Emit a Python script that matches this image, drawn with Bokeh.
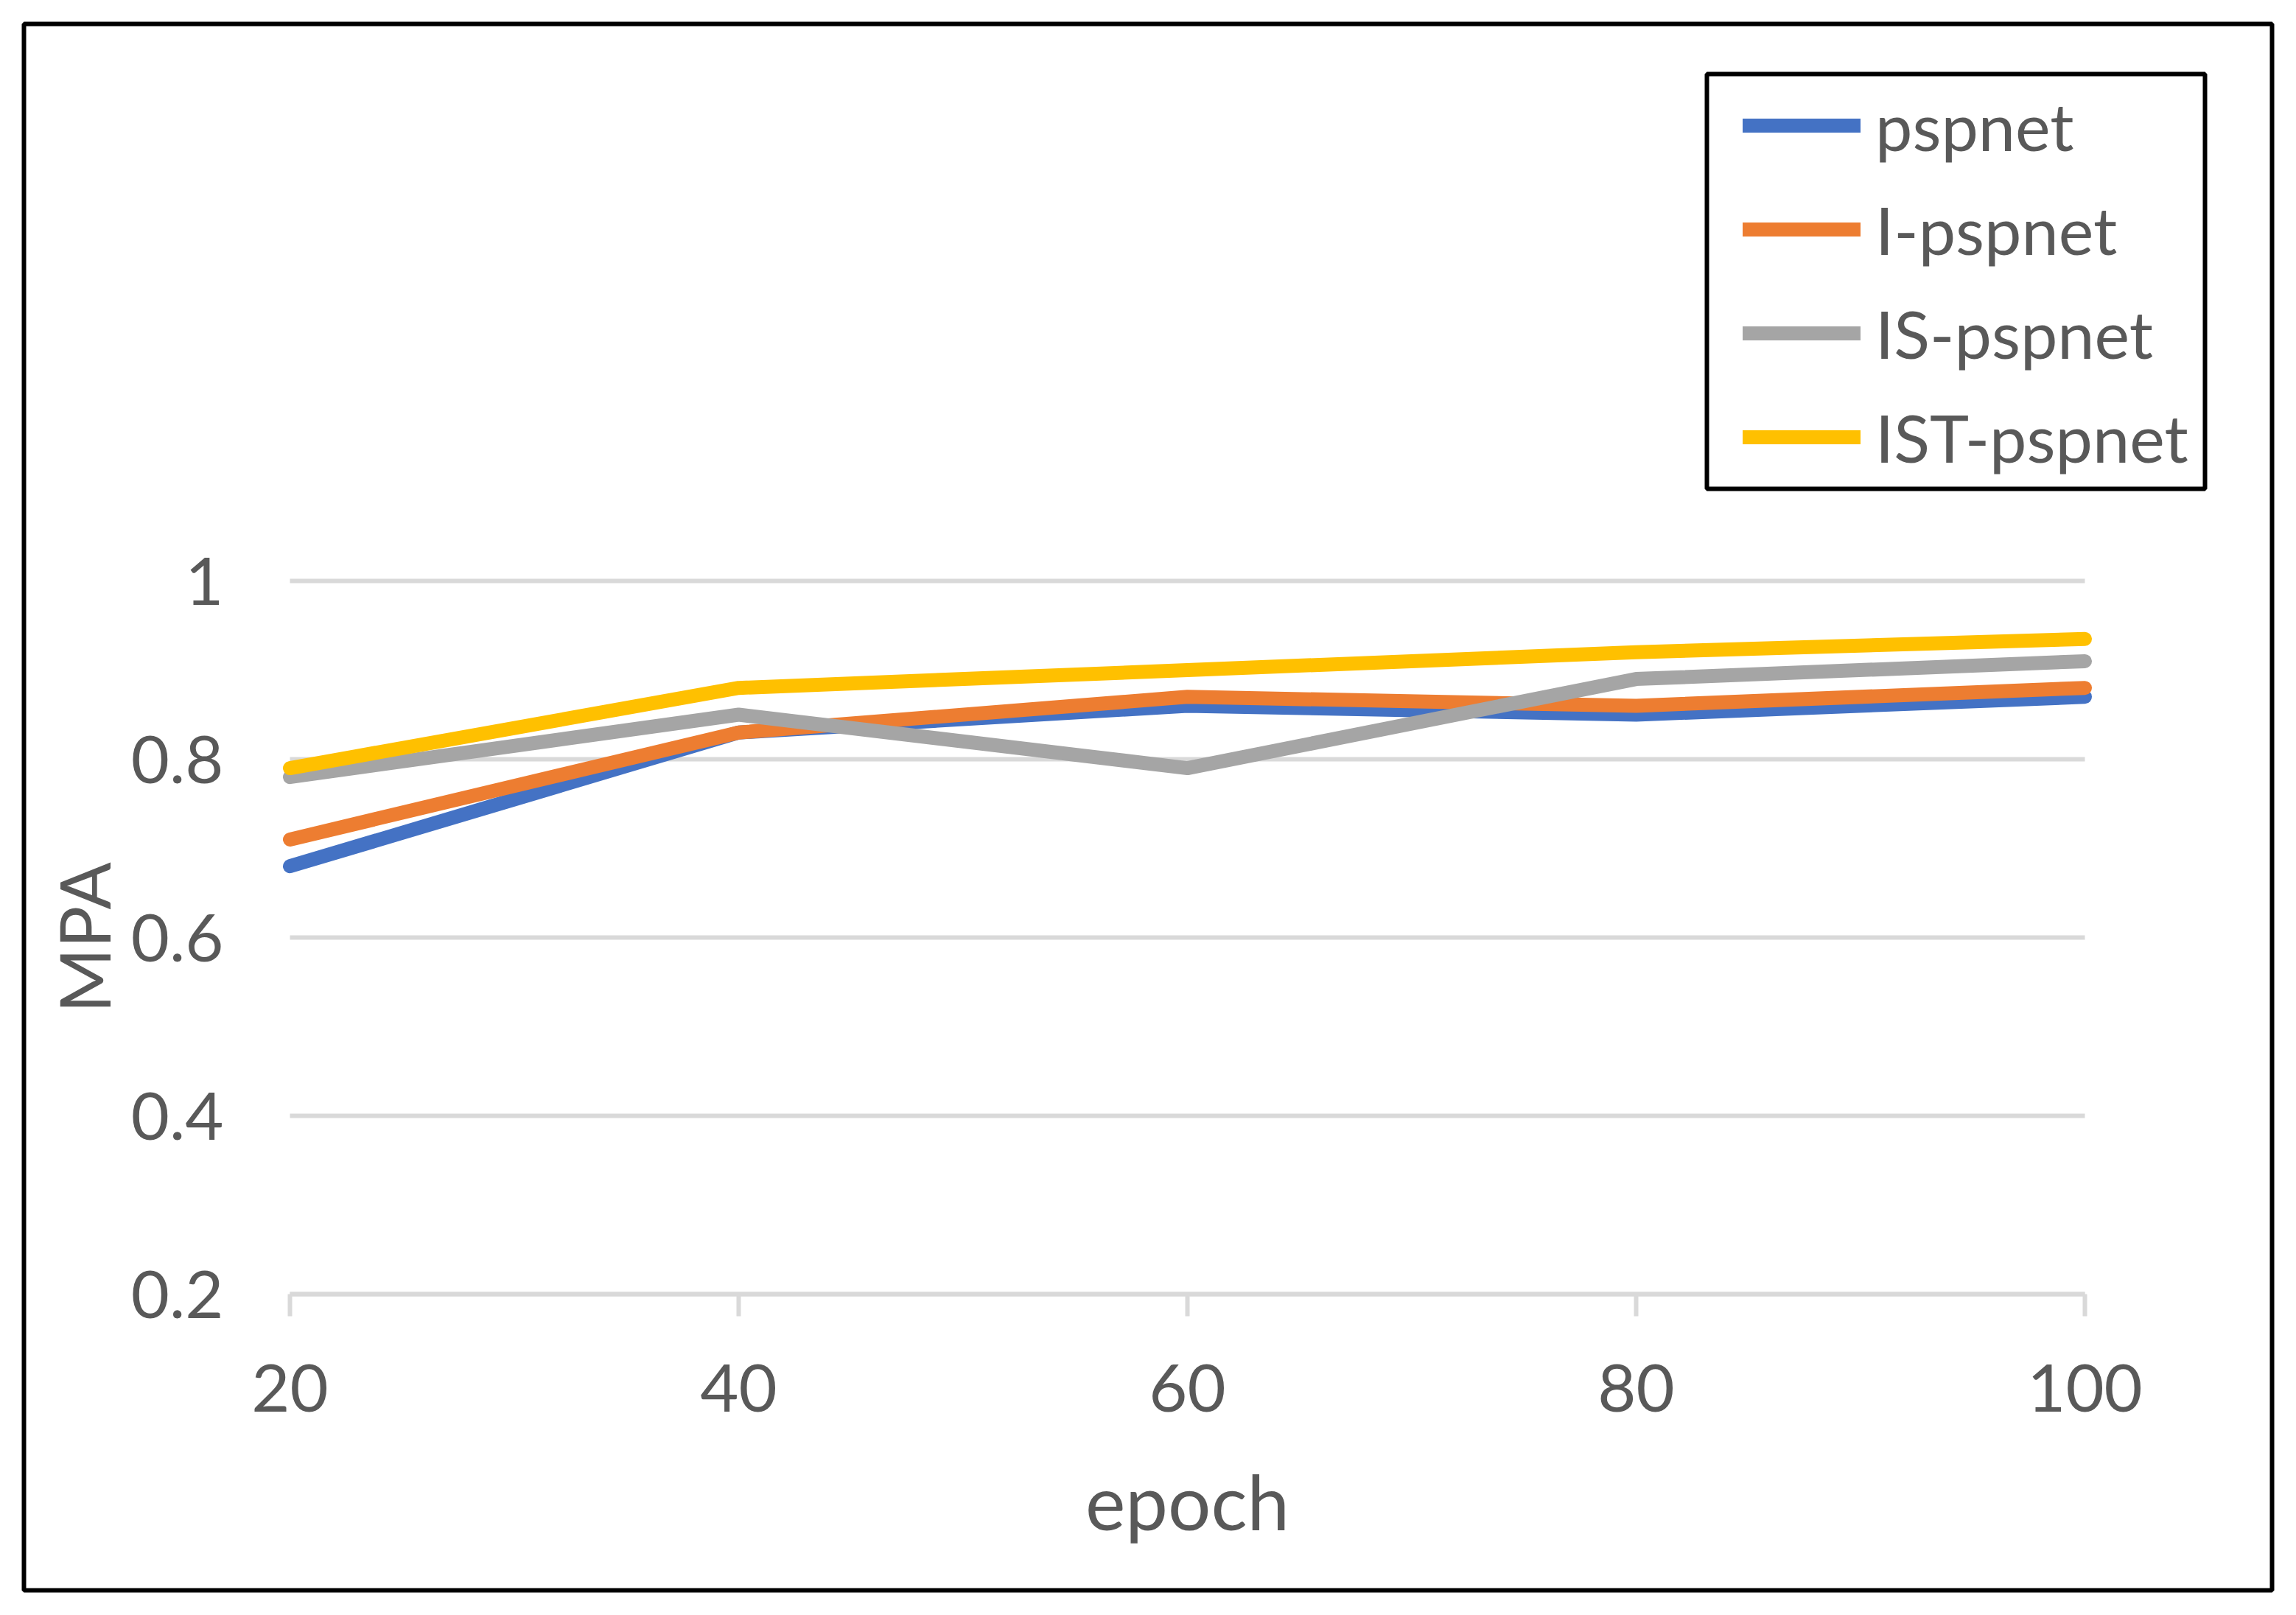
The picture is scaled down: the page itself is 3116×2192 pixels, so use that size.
from bokeh.plotting import figure
from bokeh.models import Range1d, FixedTicker, Legend, LegendItem, BoxAnnotation
from bokeh.embed import file_html
from bokeh.resources import INLINE

# ---- data ----
epochs = [20, 40, 60, 80, 100]
pspnet = [0.68, 0.83, 0.86, 0.85, 0.87]
i_pspnet = [0.71, 0.83, 0.87, 0.86, 0.88]
is_pspnet = [0.78, 0.85, 0.79, 0.89, 0.91]
ist_pspnet = [0.79, 0.88, 0.90, 0.92, 0.935]
series_names = ["pspnet", "I-pspnet", "IS-pspnet", "IST-pspnet"]
series_values = [pspnet, i_pspnet, is_pspnet, ist_pspnet]
colors = ["#4472C4", "#ED7D31", "#A5A5A5", "#FFC000"]
y_ticks = [0.2, 0.4, 0.6, 0.8, 1.0]
y_tick_labels = ["0.2", "0.4", "0.6", "0.8", "1"]

TEXT = "#595959"
GRID = "#D9D9D9"
FONT = "Lato"

# ---- layout (canvas pixels) ----
W, H = 3100, 2176
FRAME_L, FRAME_R, FRAME_T, FRAME_B = 32, 3083, 32, 2158   # the chart border
XA_PX, XB_PX = 393, 2829     # pixel of first / last epoch
YA_PX, YB_PX = 1756, 788     # pixel of lowest / highest y tick

x_a, x_b = epochs[0], epochs[-1]
y_a, y_b = y_ticks[0], y_ticks[-1]
kx = (XB_PX - XA_PX) / (x_b - x_a)
ky = (YA_PX - YB_PX) / (y_b - y_a)
x_start = x_a - (XA_PX - FRAME_L) / kx
x_end = x_b + (FRAME_R - XB_PX) / kx
y_end = y_b + (YB_PX - FRAME_T) / ky
y_start = y_a - (FRAME_B - YA_PX) / ky


def dx(px):
    return x_start + (px - FRAME_L) / kx


def dy(py):
    return y_end - (py - FRAME_T) / ky


p = figure(width=W, height=H, output_backend="svg", toolbar_location=None,
           x_range=Range1d(x_start, x_end), y_range=Range1d(y_start, y_end),
           min_border_left=FRAME_L, min_border_right=W - FRAME_R,
           min_border_top=FRAME_T, min_border_bottom=H - FRAME_B,
           x_axis_label="epoch", y_axis_label="MPA")
p.background_fill_color = "white"
p.border_fill_color = "white"
p.outline_line_color = "black"
p.outline_line_width = 6
p.outline_line_alpha = 1.0
p.xgrid.visible = False
p.ygrid.visible = False

# gridlines (only across the category span)
p.segment(x0=[x_a] * len(y_ticks), x1=[x_b] * len(y_ticks), y0=y_ticks, y1=y_ticks,
          line_color=GRID, line_width=6, level="underlay")

# x axis, placed on the 0.2 line
p.xaxis.fixed_location = y_a
p.xaxis.bounds = (x_a, x_b)
p.xaxis.ticker = FixedTicker(ticks=epochs)
p.xaxis.axis_line_color = GRID
p.xaxis.axis_line_width = 6
p.xaxis.major_tick_line_color = GRID
p.xaxis.major_tick_line_width = 6
p.xaxis.major_tick_out = 30
p.xaxis.major_tick_in = 0
p.xaxis.minor_tick_line_color = None
p.xaxis.major_label_standoff = 65
p.xaxis.major_label_text_font = FONT
p.xaxis.major_label_text_font_size = "90px"
p.xaxis.major_label_text_color = TEXT
p.xaxis.axis_label_text_font = FONT
p.xaxis.axis_label_text_font_size = "103px"
p.xaxis.axis_label_text_font_style = "normal"
p.xaxis.axis_label_text_color = TEXT
p.xaxis.axis_label_standoff = 56

# y axis, placed on the first epoch
p.yaxis.fixed_location = x_a
p.yaxis.bounds = (y_a, y_b)
p.yaxis.ticker = FixedTicker(ticks=y_ticks)
p.yaxis.major_label_overrides = dict(zip(y_ticks, y_tick_labels))
p.yaxis.axis_line_color = None
p.yaxis.major_tick_line_color = None
p.yaxis.minor_tick_line_color = None
p.yaxis.major_tick_out = 0
p.yaxis.major_tick_in = 0
p.yaxis.major_label_standoff = 90
p.yaxis.major_label_text_font = FONT
p.yaxis.major_label_text_font_size = "90px"
p.yaxis.major_label_text_color = TEXT
p.yaxis.axis_label_text_font = FONT
p.yaxis.axis_label_text_font_size = "95px"
p.yaxis.axis_label_text_font_style = "normal"
p.yaxis.axis_label_text_color = TEXT
p.yaxis.axis_label_standoff = 5

# series
items = []
for name, vals, col in zip(series_names, series_values, colors):
    r = p.line(epochs, vals, line_color=col, line_width=19,
               line_cap="round", line_join="round")
    items.append(LegendItem(label=name, renderers=[r]))

# legend (items), inside the frame
LEG_GLYPH_X, LEG_ROW0_TOP = 2365, 110
GLYPH_H, SPACING = 120, 21
leg_h = 4 * GLYPH_H + 3 * SPACING
legend = Legend(items=items,
                location=(LEG_GLYPH_X - FRAME_L, FRAME_B - LEG_ROW0_TOP - leg_h),
                padding=0, spacing=SPACING, margin=0,
                glyph_width=160, glyph_height=GLYPH_H, label_height=GLYPH_H,
                label_standoff=20,
                label_text_font=FONT, label_text_font_size="90px",
                label_text_color=TEXT,
                border_line_color=None, background_fill_alpha=0)
p.add_layout(legend)

# legend frame
p.add_layout(BoxAnnotation(left=dx(2316), right=dx(2992), top=dy(100), bottom=dy(663),
                           fill_color=None, line_color="black", line_width=6,
                           line_alpha=1.0))

open("out.html", "w").write(file_html(p, INLINE))
